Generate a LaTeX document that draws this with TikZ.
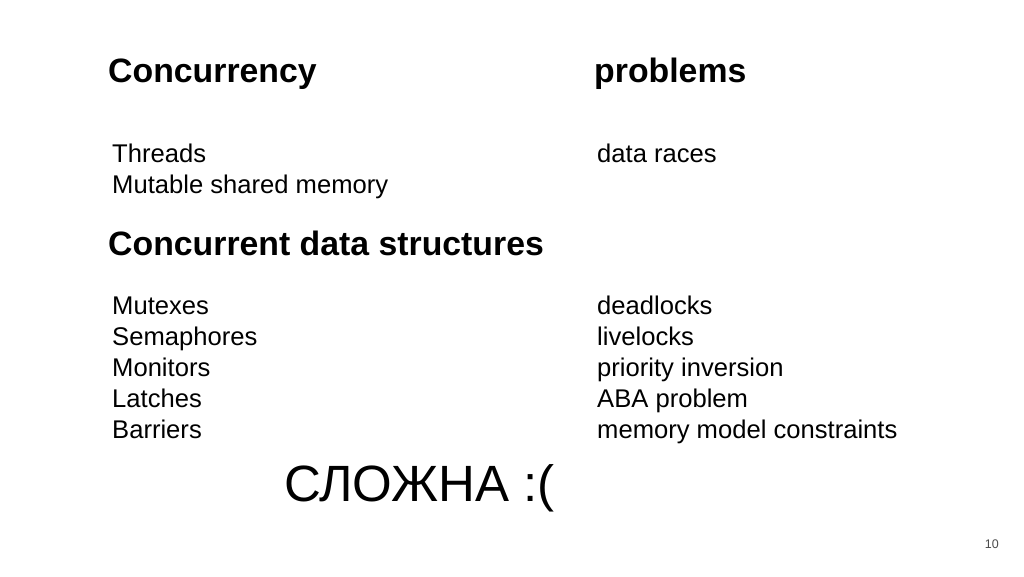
\documentclass[tikz,border=0pt]{standalone}
\usepackage{fontspec}
\setmainfont{Liberation Sans}
\usetikzlibrary{positioning}

\begin{document}
\begin{tikzpicture}[x=1pt, y=-1pt]
        \tikzstyle{heading} = [anchor=base west, inner sep=0pt, font=\fontsize{33.8}{40}\selectfont\bfseries]
        \tikzstyle{entry}   = [anchor=base west, inner sep=0pt, font=\fontsize{25.6}{31}\selectfont]
        \useasboundingbox[fill=white] (0,0) rectangle (1024,576);

        % headings
        \node [heading](conc) at (108, 82) {Concurrency};
        \node [heading](prob) at (594, 82) {problems};
        \node [heading](cds)  at (108, 255) {Concurrent data structures};

        % first block
        \node [entry](threads) at (112, 162) {Threads};
        \node [entry](shmem)   at (112, 193) {Mutable shared memory};
        \node [entry](races)   at (597, 162) {data races};

        % second block
        \foreach \name [count=\i] in {Mutexes, Semaphores, Monitors, Latches, Barriers}
        {
                \node [entry](prim\i) at (112, {314 + (\i-1) * 31.2}) {\name};
        }
        \foreach \name [count=\i] in {deadlocks, livelocks, priority inversion, ABA problem, memory model constraints}
        {
                \node [entry](issue\i) at (597, {314 + (\i-1) * 31.2}) {\name};
        }

        \node [anchor=base west, inner sep=0pt, font=\fontsize{51}{60}\selectfont](hard) at (284, 501) {СЛОЖНА :(};
        \node [anchor=base east, inner sep=0pt, text=black!70, font=\fontsize{12.5}{15}\selectfont](page) at (999, 548) {10};
\end{tikzpicture}
\end{document}
